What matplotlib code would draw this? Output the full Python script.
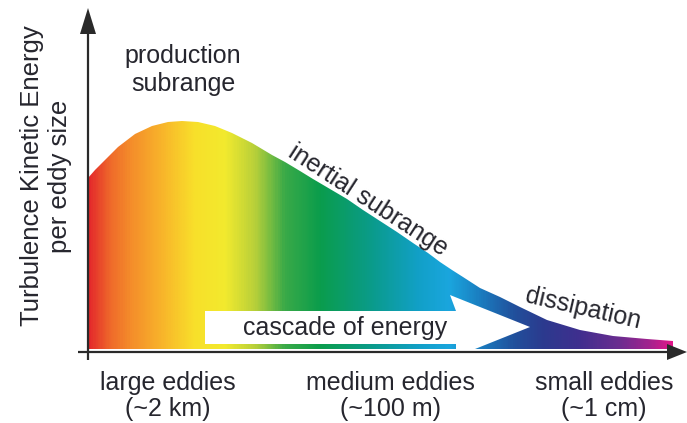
import numpy as np
import matplotlib
matplotlib.use("Agg")
import matplotlib.pyplot as plt
from matplotlib.patches import Polygon
from matplotlib.colors import LinearSegmentedColormap

# ---- data (x position along eddy-size axis, energy height above baseline) ----
curve_x = [88, 95, 105, 118, 135, 152, 168, 182, 198, 215, 232, 252, 272, 285,
           300, 313, 330, 347, 363, 380, 397, 413, 428, 440, 452, 463, 480, 500,
           520, 547, 580, 613, 647, 673]
curve_energy = [174, 182, 192, 205, 218, 226, 230, 231, 230, 226, 219, 209, 197, 190,
                181, 173, 163, 153, 142, 131, 120, 109, 99, 90, 82, 75, 64, 55,
                45, 32, 22, 16, 13, 11]

grad_pos = [89, 110, 130, 160, 195, 225, 255, 285, 320, 370, 420, 450, 485, 515,
            545, 580, 620, 650, 673]
grad_colors = ['#e42a2c', '#ef6a2a', '#f48c2a', '#f8b22b', '#f8e02a', '#f2ea2e',
               '#b8d03a', '#3aaa48', '#0b9d4c', '#0a9b88', '#12a0c8', '#1aa6de',
               '#1b78bc', '#21509c', '#2c3a8e', '#3f2f8e', '#6a2d90', '#a0238e',
               '#e0168a']

x_labels = ['large eddies\n(~2 km)', 'medium eddies\n(~100 m)', 'small eddies\n(~1 cm)']
x_label_pos = [168, 390, 604]
y_label = 'Turbulence Kinetic Energy\nper eddy size'

plt.rcParams['font.family'] = ['Liberation Sans', 'DejaVu Sans']
TXT = '#26262e'

fig = plt.figure(figsize=(6.87, 4.23), dpi=100)
ax = fig.add_axes([0, 0, 1, 1])
ax.set_xlim(0, 687)
ax.set_ylim(-71, 352)
ax.axis('off')

base = 3
# filled area with gradient
poly_pts = list(zip(curve_x, curve_energy)) + [(curve_x[-1], base), (curve_x[0], base)]
fill_patch = Polygon(poly_pts, closed=True, facecolor='none', edgecolor='none')
ax.add_patch(fill_patch)
lo, hi = grad_pos[0], grad_pos[-1]
stops = [((p - lo) / (hi - lo), c) for p, c in zip(grad_pos, grad_colors)]
cmap = LinearSegmentedColormap.from_list('rainbow_grad', stops)
grad = np.linspace(0, 1, 600).reshape(1, -1)
im = ax.imshow(grad, cmap=cmap, aspect='auto',
               extent=[curve_x[0], lo + (hi - lo) * 1.0, base, max(curve_energy) + 2],
               origin='lower', interpolation='bilinear', zorder=1)
im.set_clip_path(fill_patch)

# white cascade arrow
arrow = Polygon([(205, 41), (456, 41), (450, 57), (530, 25), (475, base),
                 (456, base), (456, 8), (205, 8)], closed=True,
                facecolor='white', edgecolor='none', zorder=2)
ax.add_patch(arrow)

# axes with arrowheads
lc = '#2a2a2a'
ax.plot([88, 88], [-8, 322], color=lc, lw=1.6, zorder=3, solid_capstyle='butt')
ax.add_patch(Polygon([(80, 318), (96, 318), (88, 344)], closed=True,
                     facecolor=lc, edgecolor='none', zorder=3))
ax.plot([78, 672], [0, 0], color=lc, lw=1.6, zorder=3, solid_capstyle='butt')
ax.add_patch(Polygon([(667, 8), (667, -8), (687, 0)], closed=True,
                     facecolor=lc, edgecolor='none', zorder=3))

# texts
ax.text(183, 282, 'production\nsubrange', ha='center', va='center',
        fontsize=18, color=TXT, linespacing=1.2)
ax.text(368, 152, 'inertial subrange', ha='center', va='center',
        fontsize=18, color=TXT, rotation=-33, rotation_mode='anchor')
ax.text(583, 43, 'dissipation', ha='center', va='center',
        fontsize=18, color=TXT, rotation=-13, rotation_mode='anchor')
ax.text(345, 24, 'cascade of energy', ha='center', va='center',
        fontsize=18, color=TXT, zorder=4)
ax.text(46, 176, y_label, ha='center', va='center', rotation=90,
        fontsize=18.5, color=TXT, linespacing=1.2)
for lab, xp in zip(x_labels, x_label_pos):
    ax.text(xp, -44, lab, ha='center', va='center', fontsize=18,
            color=TXT, linespacing=1.1)

fig.savefig('out.png', dpi=100)
